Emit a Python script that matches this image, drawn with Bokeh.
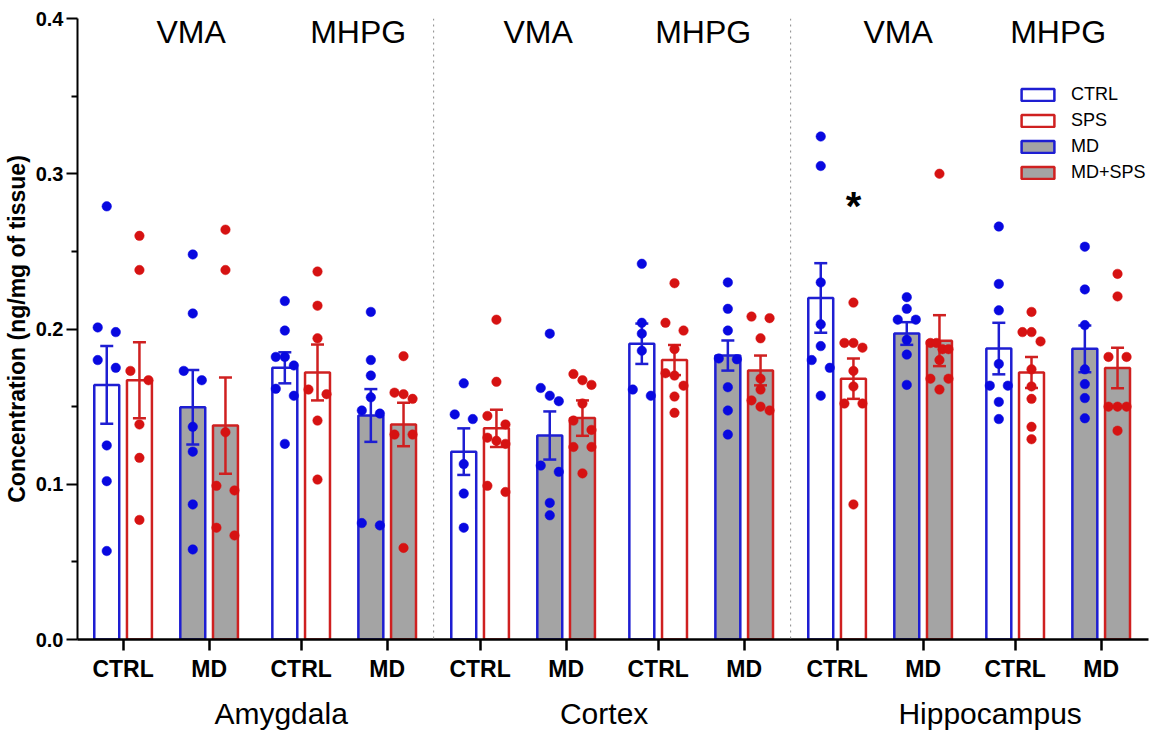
import numpy as np
from bokeh.plotting import figure
from bokeh.models import (ColumnDataSource, Range1d, FixedTicker, LinearAxis, Span,
                          Label, Legend, LegendItem, PrintfTickFormatter, CustomJSTickFormatter)
from bokeh.embed import file_html
from bokeh.resources import INLINE

# ---------------- data ----------------
regions = ["Amygdala", "Cortex", "Hippocampus"]
metabolites = ["VMA", "MHPG"]
pair_labels = ["CTRL", "MD"]
series_names = ["CTRL", "SPS", "MD", "MD+SPS"]

# group order: Amygdala VMA, Amygdala MHPG, Cortex VMA, Cortex MHPG, Hippocampus VMA, Hippocampus MHPG
ctrl_pts = [
    [0.279, 0.201, 0.198, 0.180, 0.175, 0.125, 0.102, 0.057],
    [0.218, 0.199, 0.182, 0.182, 0.1765, 0.1615, 0.157, 0.126],
    [0.165, 0.145, 0.142, 0.113, 0.094, 0.072],
    [0.242, 0.204, 0.197, 0.186, 0.161, 0.157],
    [0.324, 0.305, 0.230, 0.203, 0.189, 0.180, 0.175, 0.157],
    [0.266, 0.229, 0.212, 0.1775, 0.1635, 0.1635, 0.153, 0.142],
]
sps_pts = [
    [0.260, 0.238, 0.173, 0.167, 0.1385, 0.117, 0.077],
    [0.237, 0.215, 0.194, 0.161, 0.158, 0.141, 0.103],
    [0.206, 0.166, 0.144, 0.1385, 0.130, 0.128, 0.126, 0.099, 0.095],
    [0.2295, 0.204, 0.199, 0.187, 0.1715, 0.170, 0.1635, 0.1565, 0.146],
    [0.217, 0.191, 0.191, 0.188, 0.173, 0.163, 0.152, 0.152, 0.087],
    [0.211, 0.198, 0.198, 0.192, 0.174, 0.163, 0.155, 0.137, 0.129],
]
md_pts = [
    [0.248, 0.210, 0.173, 0.167, 0.137, 0.121, 0.087, 0.058],
    [0.211, 0.180, 0.170, 0.156, 0.1475, 0.1455, 0.075, 0.0735],
    [0.197, 0.162, 0.157, 0.1535, 0.112, 0.108, 0.088, 0.080],
    [0.230, 0.213, 0.199, 0.181, 0.1805, 0.1625, 0.1475, 0.132],
    [0.2205, 0.213, 0.206, 0.206, 0.193, 0.1835, 0.164],
    [0.253, 0.2255, 0.2025, 0.174, 0.1645, 0.1555, 0.1425],
]
mdsps_pts = [
    [0.264, 0.238, 0.1335, 0.099, 0.096, 0.072, 0.067],
    [0.1825, 0.159, 0.158, 0.155, 0.132, 0.132, 0.059],
    [0.171, 0.167, 0.164, 0.152, 0.141, 0.135, 0.124, 0.124, 0.107],
    [0.208, 0.207, 0.194, 0.168, 0.161, 0.154, 0.150, 0.1475],
    [0.300, 0.191, 0.191, 0.187, 0.187, 0.180, 0.168, 0.168, 0.161],
    [0.2355, 0.221, 0.182, 0.182, 0.150, 0.150, 0.150, 0.1345],
]

ctrl_mean = [0.164, 0.175, 0.121, 0.1905, 0.220, 0.1874]
ctrl_sem = [0.025, 0.010, 0.015, 0.013, 0.0224, 0.0166]
sps_mean = [0.167, 0.172, 0.136, 0.180, 0.168, 0.172]
sps_sem = [0.0245, 0.018, 0.012, 0.0097, 0.013, 0.010]
md_mean = [0.1496, 0.1443, 0.1314, 0.1829, 0.1971, 0.1872]
md_sem = [0.024, 0.017, 0.0155, 0.0097, 0.0073, 0.015]
mdsps_mean = [0.1378, 0.1385, 0.1426, 0.1733, 0.1925, 0.1749]
mdsps_sem = [0.031, 0.014, 0.0114, 0.0096, 0.0164, 0.013]

y_ticks = [0.0, 0.1, 0.2, 0.3, 0.4]
y_minor = [0.05, 0.15, 0.25, 0.35]
significant = ("SPS", 4)   # series, group index marked with *
star_y = 0.283

# ---------------- layout constants ----------------
FONT = "Liberation Sans"
GAP_MET = 0.07
GAP_REG = 0.08
BAR_OFF = 0.19
BAR_W = 0.29
DOT_DX = 0.105
CLUSTER = 0.0066
PX_PER_UNIT = 86.0
MET_NUDGE = [25, 14, 15, 2, 18, 0]     # px, hand placement of the top labels
REGION_NUDGE = [26, -8, 21]           # px, hand placement of region labels

BLUE_BAR = "#1e1ed2"
RED_BAR = "#cf2020"
BLUE_DOT = "#0808e0"
RED_DOT = "#d61212"
GRAY = "#a4a4a4"


def pair_pos(k):
    r = k // 4
    m = (k // 2) % 2
    return k + r * GAP_REG + (r + m) * GAP_MET


n_pairs = len(regions) * len(metabolites) * len(pair_labels)
pair_x = [pair_pos(k) for k in range(n_pairs)]
pair_text = [pair_labels[k % 2] for k in range(n_pairs)]
region_x = [float(np.mean(pair_x[r * 4:(r + 1) * 4])) + REGION_NUDGE[r] / PX_PER_UNIT
            for r in range(len(regions))]
met_x = [float(np.mean(pair_x[j * 2:j * 2 + 2])) for j in range(len(regions) * len(metabolites))]
divider_x = [(pair_x[r * 4 + 3] + pair_x[r * 4 + 4]) / 2 for r in range(len(regions) - 1)]


def swarm(vals):
    order = sorted(range(len(vals)), key=lambda i: -vals[i])
    offs = [0.0] * len(vals)
    clusters = []
    for i in order:
        if clusters and abs(vals[clusters[-1][-1]] - vals[i]) < CLUSTER:
            clusters[-1].append(i)
        else:
            clusters.append([i])
    for c in clusters:
        n = len(c)
        if n > 1:
            for j, i in enumerate(c):
                offs[i] = -DOT_DX + 2 * DOT_DX * j / (n - 1)
    return offs


p = figure(width=1155, height=736, output_backend="svg", toolbar_location=None,
           x_range=Range1d(pair_x[0] - 0.53, pair_x[-1] + 0.55),
           y_range=Range1d(0, 0.4),
           min_border_left=77, min_border_right=7, min_border_top=18, min_border_bottom=97)
p.outline_line_color = None
p.grid.visible = False
p.background_fill_color = "white"

series = [
    ("CTRL", ctrl_pts, ctrl_mean, ctrl_sem, 0, -1, "white", BLUE_BAR, BLUE_DOT),
    ("SPS", sps_pts, sps_mean, sps_sem, 0, 1, "white", RED_BAR, RED_DOT),
    ("MD", md_pts, md_mean, md_sem, 1, -1, GRAY, BLUE_BAR, BLUE_DOT),
    ("MD+SPS", mdsps_pts, mdsps_mean, mdsps_sem, 1, 1, GRAY, RED_BAR, RED_DOT),
]

for d in divider_x:
    p.add_layout(Span(location=d, dimension="height", line_color="#8a8a8a",
                      line_dash="dotted", line_width=1))

bar_renderers = {}
dot_sources = []
err_sources = []
for name, pts, mean, sem, pair_off, side, fill, lc, dc in series:
    xs = [pair_x[j * 2 + pair_off] + side * BAR_OFF for j in range(len(mean))]
    src = ColumnDataSource(dict(x=xs, top=mean))
    r = p.vbar(x="x", top="top", bottom=0, width=BAR_W, source=src,
               fill_color=fill, line_color=lc, line_width=2.5)
    bar_renderers[name] = r
    esrc = ColumnDataSource(dict(x=xs, lo=[m - s for m, s in zip(mean, sem)],
                                 hi=[m + s for m, s in zip(mean, sem)]))
    err_sources.append((esrc, lc))
    dx, dy = [], []
    for j, vals in enumerate(pts):
        offs = swarm(vals)
        dx += [xs[j] + o for o in offs]
        dy += list(vals)
    dot_sources.append((ColumnDataSource(dict(x=dx, y=dy)), dc))

for esrc, lc in err_sources:
    p.segment(x0="x", x1="x", y0="lo", y1="hi", source=esrc, line_color=lc, line_width=2.5)
    p.scatter(x="x", y="hi", source=esrc, marker="dash", size=13, line_color=lc, line_width=2.5)
    p.scatter(x="x", y="lo", source=esrc, marker="dash", size=13, line_color=lc, line_width=2.5)

for dsrc, dc in dot_sources:
    p.scatter(x="x", y="y", source=dsrc, size=9.5, fill_color=dc, line_color=dc, line_width=0.5)

# significance star
sname, sg = significant
s_idx = series_names.index(sname)
s_info = series[s_idx]
star_x = pair_x[sg * 2 + s_info[4]] + s_info[5] * BAR_OFF
p.add_layout(Label(x=star_x, y=star_y, text="*", text_align="center", text_baseline="middle",
                   text_font=FONT, text_font_style="bold", text_font_size="40px",
                   text_color="black", y_offset=-6))

# metabolite labels at top
for j, cx in enumerate(met_x):
    p.add_layout(Label(x=cx, y=608, x_units="data", y_units="screen",
                       text=metabolites[j % 2], text_align="center", text_baseline="alphabetic",
                       text_font=FONT, text_font_size="32px", text_color="black",
                       x_offset=MET_NUDGE[j]))

# y axis
ya = p.yaxis[0]
ya.ticker = FixedTicker(ticks=y_ticks, minor_ticks=y_minor)
ya.formatter = PrintfTickFormatter(format="%.1f")
ya.axis_label = "Concentration (ng/mg of tissue)"
ya.axis_label_text_font = FONT
ya.axis_label_text_font_style = "bold"
ya.axis_label_text_font_size = "23px"
ya.axis_label_text_color = "black"
ya.axis_label_standoff = 3
ya.major_label_text_font = FONT
ya.major_label_text_font_style = "bold"
ya.major_label_text_font_size = "20px"
ya.major_label_text_color = "black"
ya.major_label_standoff = 3
ya.axis_line_width = 2
ya.axis_line_color = "black"
ya.major_tick_line_width = 2
ya.minor_tick_line_width = 2
ya.major_tick_out = 11
ya.major_tick_in = 0
ya.minor_tick_out = 6
ya.minor_tick_in = 0

# x axis (CTRL / MD)
xa = p.xaxis[0]
xa.ticker = FixedTicker(ticks=pair_x)
xa.formatter = CustomJSTickFormatter(args=dict(labels=pair_text), code="return labels[index];")
xa.major_label_text_font = FONT
xa.major_label_text_font_style = "bold"
xa.major_label_text_font_size = "23px"
xa.major_label_text_color = "black"
xa.major_label_standoff = 5
xa.axis_line_width = 2.5
xa.axis_line_color = "black"
xa.major_tick_line_width = 2.5
xa.major_tick_out = 11
xa.major_tick_in = 0
xa.minor_tick_line_color = None
xa.minor_tick_out = 0

# region axis (second row of labels)
ra = LinearAxis(ticker=FixedTicker(ticks=region_x),
                formatter=CustomJSTickFormatter(args=dict(labels=regions), code="return labels[index];"))
ra.axis_line_color = None
ra.major_tick_line_color = None
ra.minor_tick_line_color = None
ra.major_tick_out = 0
ra.major_tick_in = 0
ra.minor_tick_out = 0
ra.minor_tick_in = 0
ra.major_label_standoff = 12
ra.major_label_text_font = FONT
ra.major_label_text_font_size = "30px"
ra.major_label_text_color = "black"
p.add_layout(ra, "below")

# legend
items = [LegendItem(label=n, renderers=[bar_renderers[n]]) for n in series_names]
legend = Legend(items=items, location=(940, 456), orientation="vertical",
                glyph_width=41, glyph_height=15, label_height=15,
                label_text_font=FONT, label_text_font_size="18px", label_text_color="black",
                label_standoff=13, spacing=5, padding=0, margin=0,
                border_line_alpha=0, background_fill_alpha=0)
p.add_layout(legend, "center")

open("out.html", "w").write(file_html(p, INLINE))
